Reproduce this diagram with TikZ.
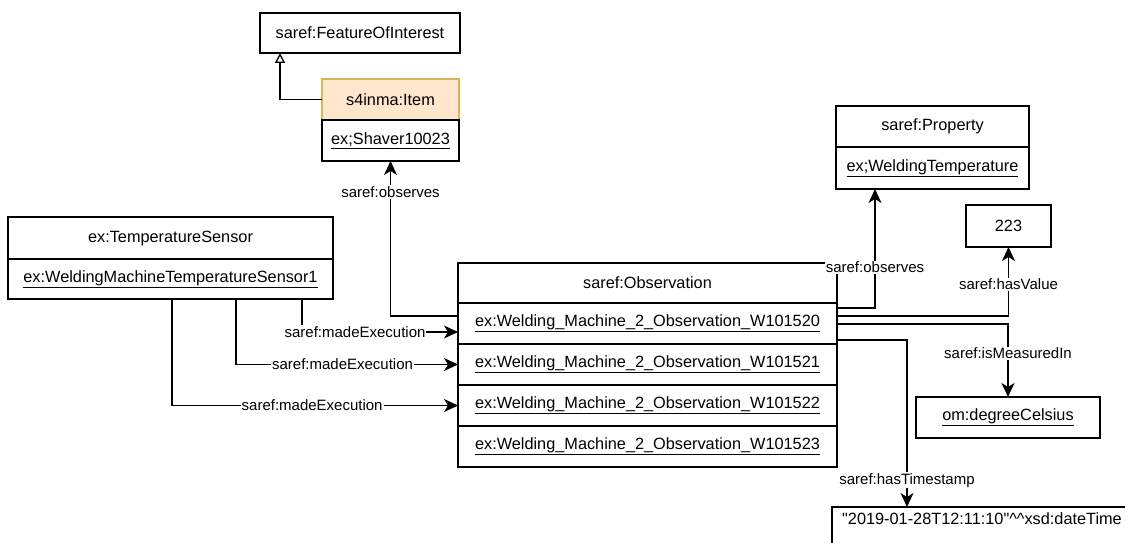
\documentclass[tikz,border=0pt]{standalone}
\usepackage{fontspec}
\setmainfont{Liberation Sans}[Ligatures=TeXOff]
\usetikzlibrary{arrows.meta,positioning}

\definecolor{itemfill}{HTML}{FFE6CC}
\definecolor{itemline}{HTML}{D6B656}

\tikzset{
  cell/.style={draw, line width=1.3pt, inner sep=0pt, outer sep=0pt, minimum height=41pt,
    font=\fontsize{16.3}{19}\selectfont},
  lbl/.style={fill=white, inner sep=1pt, font=\fontsize{15}{17}\selectfont},
  arr/.style={draw, line width=1.3pt, -{Stealth[length=14pt,width=13pt,inset=4pt]}},
  inh/.style={draw, line width=1.3pt, -{Triangle[open,length=10pt,width=10pt]}},
}
\newcommand{\inst}[1]{\underline{#1}}

\begin{document}
\begin{tikzpicture}[x=1pt,y=-1pt]
\useasboundingbox (0,0) rectangle (1125,543);
\clip (0,0) rectangle (1125,543);

% classes and individuals
\node[cell, minimum width=200pt, minimum height=40pt] (foi) at (360,33) {saref:FeatureOfInterest};
\node[cell, draw=itemline, fill=itemfill, minimum width=137pt] (item) at (390.5,99.5) {s4inma:Item};
\node[cell, minimum width=137pt, below=0pt of item] (shaver) {\inst{ex;Shaver10023}};

\node[cell, minimum width=325pt, minimum height=42pt] (sensor) at (170.5,238) {ex:TemperatureSensor};
\node[cell, minimum width=325pt, minimum height=40pt, below=0pt of sensor] (sensor1) {\inst{ex:WeldingMachineTemperatureSensor1}};

\node[cell, minimum width=379pt, minimum height=40pt] (obs) at (647.5,283) {saref:Observation};
\node[cell, minimum width=379pt, below=0pt of obs] (w0) {\inst{ex:Welding\_Machine\_2\_Observation\_W101520}};
\foreach \i [remember=\i as \prev (initially 0)] in {1,2,3} {
\node[cell, minimum width=379pt, below=0pt of w\prev] (w\i) {\inst{ex:Welding\_Machine\_2\_Observation\_W10152\i}};
}

\node[cell, minimum width=193pt] (prop) at (932.5,126.5) {saref:Property};
\node[cell, minimum width=193pt, minimum height=42pt, below=0pt of prop] (temp) {\inst{ex;WeldingTemperature}};
\node[cell, minimum width=85pt, minimum height=42pt] (val) at (1008.5,226) {223};
\node[cell, minimum width=184pt] (unit) at (1008,417.5) {\inst{om:degreeCelsius}};
\node[cell, minimum width=300pt, minimum height=0pt, text height=17pt, text depth=40pt, anchor=north west] (ts) at (832,507) {"2019-01-28T12:11:10"\textasciicircum\textasciicircum xsd:dateTime};

% subclass
\draw[inh] (item.west) -| ([xshift=-80pt]foi.south);

% sensor -> observations
\draw[arr] ([xshift=131.5pt]sensor1.south) |- ([yshift=-8.5pt]w0.west) node[lbl, pos=0.67] {saref:madeExecution};
\draw[arr] ([xshift=65.5pt]sensor1.south) |- (w1.west) node[lbl, pos=0.74] {saref:madeExecution};
\draw[arr] ([xshift=1.5pt]sensor1.south) |- (w2.west) node[lbl, pos=0.745] {saref:madeExecution};

% observation -> others
\draw[arr] ([yshift=7.5pt]w0.west) -| (shaver.south) node[lbl, pos=0.9] {saref:observes};
\draw[arr] ([yshift=15.5pt]w0.east) -| ([xshift=-57.5pt]temp.south) node[lbl, pos=0.67] {saref:observes};
\draw[arr] ([yshift=7.5pt]w0.east) -| (val.south) node[lbl, pos=0.73] {saref:hasValue};
\draw[arr] ([yshift=-0.5pt]w0.east) -| (unit.north) node[lbl, pos=0.7] {saref:isMeasuredIn};
\draw[arr] ([yshift=-16.5pt]w0.east) -| ([xshift=-75pt]ts.north) node[lbl, pos=0.92] {saref:hasTimestamp};
\end{tikzpicture}
\end{document}
